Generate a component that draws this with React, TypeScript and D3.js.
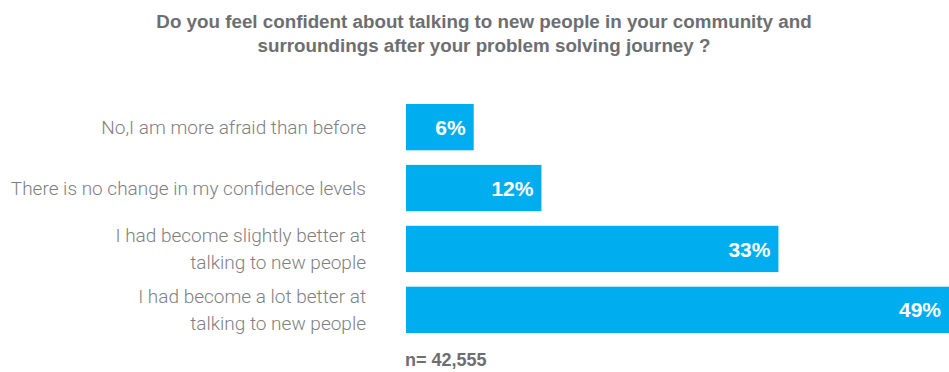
import React from "react";
import * as d3 from "d3";

const categories: string[][] = [
  ["No,I am more afraid than before"],
  ["There is no change in my confidence levels"],
  ["I had become slightly better at", "talking to new people"],
  ["I had become a lot better at", "talking to new people"],
];
const values: number[] = [6, 12, 33, 49];
const titleLines: string[] = [
  "Do you feel confident about talking to new people in your community and",
  "surroundings after your problem solving journey ?",
];
const note = "n= 42,555";

const W = 949;
const H = 372;

export default function App() {
  const x = d3.scaleLinear().domain([0, 49]).range([406, 959]);
  const y = d3
    .scaleBand<number>()
    .domain(d3.range(values.length))
    .range([104, 333])
    .paddingInner(0.24)
    .paddingOuter(0);
  const labelColor = "#808080";
  const font = "'Liberation Sans', Arial, Helvetica, sans-serif";
  return (
    <svg
      width={W}
      height={H}
      style={{ position: "absolute", left: 0, top: 0, display: "block" }}
      fontFamily={font}
    >
      <rect width={W} height={H} fill="#fff" />
      {titleLines.map((t, i) => (
        <text
          key={i}
          x={484}
          y={28 + i * 24}
          textAnchor="middle"
          fontSize={18.8}
          fontWeight={700}
          fill="#6d6e71"
        >
          {t}
        </text>
      ))}
      {values.map((v, i) => {
        const y0 = y(i)!;
        const bh = y.bandwidth();
        const cy = y0 + bh / 2;
        const lines = categories[i];
        return (
          <g key={i}>
            <rect x={x(0)} y={y0} width={x(v) - x(0)} height={bh} fill="#00aeef" />
            <text
              x={Math.min(x(v), W) - 8}
              y={cy}
              dy="0.36em"
              textAnchor="end"
              fontSize={21}
              fontWeight={700}
              fill="#fff"
            >
              {v}%
            </text>
            {lines.map((l, j) => (
              <text
                key={j}
                x={366}
                y={cy + (j - (lines.length - 1) / 2) * 26.5}
                dy="0.35em"
                textAnchor="end"
                fontSize={19}
                fontWeight={300}
                fontFamily="Roboto, sans-serif"
                fill={labelColor}
              >
                {l}
              </text>
            ))}
          </g>
        );
      })}
      <text x={405} y={366} fontSize={18} fontWeight={700} fill="#6d6e71">
        {note}
      </text>
    </svg>
  );
}
